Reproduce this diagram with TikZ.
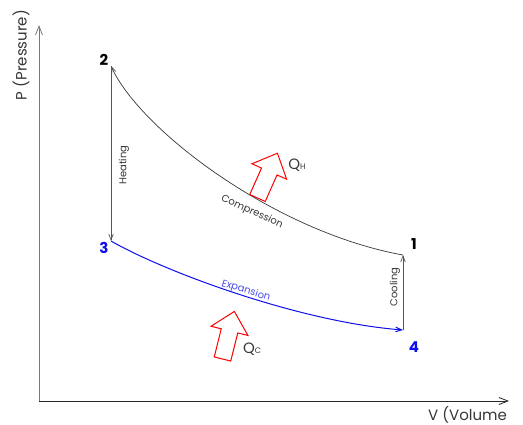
\documentclass[tikz,border=0pt]{standalone}
\usepackage{fontspec}
\setmainfont{Poppins}
\usetikzlibrary{arrows.meta}
\definecolor{cyclegray}{RGB}{55,55,55}
\definecolor{axisgray}{RGB}{120,120,120}
\definecolor{cycleblue}{RGB}{15,15,235}
\tikzset{
  axisline/.style ={line width=0.8pt, -{Straight Barb[length=9pt,width=7pt]}},
  cline/.style    ={line width=0.7pt, cyclegray, -{Straight Barb[length=6pt,width=4.5pt]}},
  vline/.style    ={line width=0.7pt, axisgray!70!black, -{Straight Barb[length=6pt,width=4.5pt]}},
  bline/.style    ={line width=1pt, cycleblue, -{Straight Barb[length=6pt,width=4.5pt]}},
  axislabel/.style={font=\fontsize{15}{15}\selectfont, text=cyclegray, inner sep=0pt},
  ptlabel/.style  ={font=\fontsize{15}{15}\selectfont\bfseries, inner sep=0pt},
  steplabel/.style={font=\fontsize{10}{10}\selectfont, text=cyclegray, inner sep=0pt},
  qlabel/.style   ={font=\fontsize{15}{15}\selectfont, text=cyclegray, inner sep=0pt},
  heatarrow/.style={draw=red, line width=1pt, fill=white, line join=miter},
  heatflow/.pic   ={\draw[heatarrow] (0,-8.5) -- (29,-8.5) -- (29,-19) -- (49,0)
                      -- (29,19) -- (29,8.5) -- (0,8.5) -- cycle;},
}
\begin{document}
\begin{tikzpicture}[x=1pt, y=1pt]
\useasboundingbox[fill=white] (0,0) rectangle (523,-425);
% axes
\coordinate (O)    at (39,-401);
\coordinate (ytop) at (39,-25);
\coordinate (xend) at (509,-401);
\draw[axisline, axisgray] (O) -- (ytop);
\draw[axisline, black!85] (O) -- (xend);
\node[axislabel, rotate=90] (plab) at (21,-55) {P (Pressure)};
\node[axislabel, anchor=west] (vlab) at (428,-415) {V (Volume};
% corner points of the cycle
\coordinate (p1) at (403,-255);
\coordinate (p2) at (111,-66);
\coordinate (p3) at (111,-241);
\coordinate (p4) at (403,-330);
\node[ptlabel]                 (n1) at (414,-244) {1};
\node[ptlabel]                 (n2) at (104,-60)  {2};
\node[ptlabel, text=cycleblue] (n3) at (104,-248) {3};
\node[ptlabel, text=cycleblue] (n4) at (414,-347) {4};
% the four steps
\draw[cline] (p1) .. controls (275,-232) and (140,-130) .. (p2);
\draw[vline] (p2) -- (p3);
\draw[bline] (p3) .. controls (165,-272) and (300,-322) .. (p4);
\draw[vline] (p4) -- (p1);
\node[steplabel, rotate=90]  (heat) at (124,-165) {Heating};
\node[steplabel, rotate=-25] (comp) at (252,-212) {Compression};
\node[steplabel, rotate=-17, text=cycleblue!75] (expa) at (246,-291) {Expansion};
\node[steplabel, rotate=90]  (cool) at (395,-287) {Cooling};
% heat flows
\pic[rotate=66] at (257.5,-198) {heatflow};
\pic[rotate=76] at (222.5,-359) {heatflow};
\node[qlabel] (qh) at (297,-165) {Q{\fontsize{8}{8}\selectfont H}};
\node[qlabel] (qc) at (252,-349) {Q{\fontsize{8}{8}\selectfont C}};
\end{tikzpicture}
\end{document}
